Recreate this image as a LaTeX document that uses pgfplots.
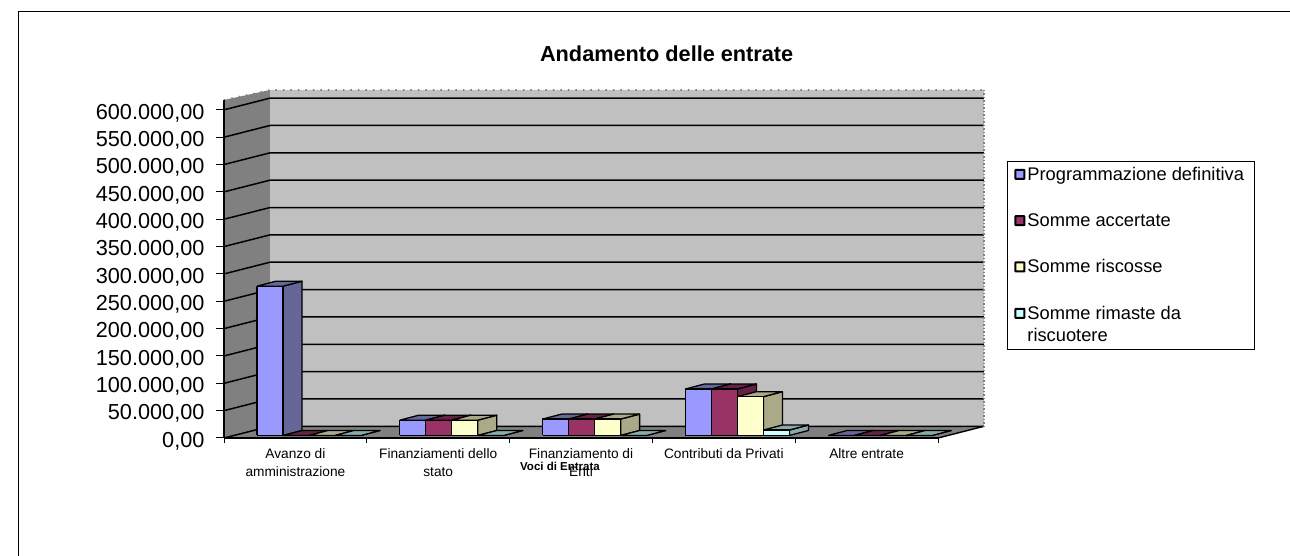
\documentclass[border=0pt]{standalone}
\usepackage{pgfplots}
\usepackage{pgfplotstable}
\usepackage{fontspec}
\setmainfont{Liberation Sans}
\pgfplotsset{compat=1.18}
\definecolor{cA}{HTML}{9999FF}\definecolor{cAd}{HTML}{666699}
\definecolor{cB}{HTML}{993366}\definecolor{cBd}{HTML}{662244}
\definecolor{cC}{HTML}{FFFFCC}\definecolor{cCd}{HTML}{AAAA88}
\definecolor{cD}{HTML}{CCFFFF}\definecolor{cDd}{HTML}{88AAAA}
\definecolor{wall}{HTML}{C0C0C0}\definecolor{dark}{HTML}{808080}
\pgfplotstableread[row sep=\\]{a b c\\1 0 0\\1 1 0\\1 1 1\\1 0 1\\1 0 0\\}\sideT
\pgfplotstableread[row sep=\\]{a b c\\0 0 1\\1 0 1\\1 1 1\\0 1 1\\0 0 1\\}\topT
\pgfplotstableread[row sep=\\]{a b c\\0 0 0\\1 0 0\\1 0 1\\0 0 1\\0 0 0\\}\frontT
\newcommand\Face[5]{\addplot[forget plot,fill=#5,draw=black,line width=1.3pt,line join=round]
  table[x expr={#1+(33+26*#2+26*\thisrow{a}+19*\thisrow{b})/142.8},
        y expr={4570+#3*\thisrow{c}+9150*\thisrow{b}}] {#4};}
% category, series index, value, colour, dark colour
\newcommand\Bar[5]{\Face{#1}{#2}{#3}{\sideT}{#5}\Face{#1}{#2}{#3}{\topT}{#5}\Face{#1}{#2}{#3}{\frontT}{#4}}
\newcommand\Grid[1]{\addplot[forget plot,black,line width=1.5pt]
  table[x=a,y expr={#1+\thisrow{b}},row sep=\\]{a b\\0 0\\0.322 21400\\5.322 21400\\};}
\begin{document}
\begin{tikzpicture}[x=1pt,y=1pt]
\useasboundingbox (0,0) rectangle (1290,556);
\draw[black,line width=1pt] (18.5,0) -- (18.5,544) -- (1290,544);
\begin{axis}[
  at={(224pt,118pt)},anchor=south west,scale only axis,width=714pt,height=338pt,
  xmin=0,xmax=5,ymin=0,ymax=618000,clip=false,
  axis x line=bottom,axis y line=left,axis line style={-,black,line width=1.2pt},
  axis on top,tick align=outside,
  xtick={0.5,1.5,2.5,3.5,4.5},
  minor xtick={0,1,2,3,4,5},
  xticklabels={{Avanzo di\\amministrazione},{Finanziamenti dello\\stato},{Finanziamento di\\Enti},{Contributi da Privati},{Altre entrate}},
  x tick label style={align=center,font=\fontsize{13.7}{18}\selectfont,anchor=north,yshift=1pt},
  major x tick style={draw=none},
  minor tick length=5pt,minor tick style={black,line width=1pt},
  ytick={0,50000,...,600000},
  scaled y ticks=false,
  major tick length=8pt,
  y tick style={black,line width=1pt},
  y tick label style={font=\fontsize{21.7}{24}\selectfont,yshift=-3pt,xshift=-8pt},
  /pgf/number format/.cd,fixed,fixed zerofill,precision=2,1000 sep={.},dec sep={,},assume math mode=true,
  /pgfplots/.cd,
  title={Andamento delle entrate},
  title style={at={(axis description cs:0.62,1.118)},anchor=center,yshift=0pt,font=\bfseries\fontsize{21.7}{24}\selectfont},
  xlabel={Voci di Entrata},
  xlabel style={at={(axis description cs:0.4706,-0.083)},anchor=center,font=\bfseries\fontsize{11.5}{12}\selectfont},
  legend cell align=left,
  legend style={at={(783pt,277pt)},anchor=north west,draw=black,line width=0.8pt,fill=white,
    font=\fontsize{18.3}{22}\selectfont,row sep=1.3pt,inner xsep=7pt,inner ysep=2pt,
    nodes={text height=15pt,text depth=26pt}},
]
% walls and floor
\addplot[forget plot,fill=wall,draw=none] coordinates {(0.322,21400)(5.322,21400)(5.322,636300)(0.322,636300)(0.322,21400)};
\addplot[forget plot,fill=dark,draw=none] coordinates {(0,0)(0.322,21400)(0.322,636300)(0,618000)(0,0)};
\addplot[forget plot,fill=dark,draw=none] coordinates {(0,0)(5,0)(5.322,21400)(0.322,21400)(0,0)};
\Grid{0}\Grid{50000}\Grid{100000}\Grid{150000}\Grid{200000}\Grid{250000}\Grid{300000}
\Grid{350000}\Grid{400000}\Grid{450000}\Grid{500000}\Grid{550000}\Grid{600000}
% edges
\addplot[forget plot,black,line width=1.4pt] coordinates {(5,0)(5.322,21400)};
\addplot[forget plot,dark,line width=1.6pt,dash pattern=on 1.5pt off 6pt] coordinates {(0,618000)(0.322,636300)(5.322,636300)};
\addplot[forget plot,dark,line width=1.6pt,dash pattern=on 1.5pt off 2pt] coordinates {(5.322,636300)(5.322,21400)};
% bars
\Bar{0}{0}{273000}{cA}{cAd}\Bar{0}{1}{0}{cB}{cBd}\Bar{0}{2}{0}{cC}{cCd}\Bar{0}{3}{0}{cD}{cDd}
\Bar{1}{0}{28000}{cA}{cAd}\Bar{1}{1}{28000}{cB}{cBd}\Bar{1}{2}{28000}{cC}{cCd}\Bar{1}{3}{0}{cD}{cDd}
\Bar{2}{0}{30000}{cA}{cAd}\Bar{2}{1}{30000}{cB}{cBd}\Bar{2}{2}{30000}{cC}{cCd}\Bar{2}{3}{0}{cD}{cDd}
\Bar{3}{0}{85000}{cA}{cAd}\Bar{3}{1}{85000}{cB}{cBd}\Bar{3}{2}{71000}{cC}{cCd}\Bar{3}{3}{10000}{cD}{cDd}
\Bar{4}{0}{0}{cA}{cAd}\Bar{4}{1}{0}{cB}{cBd}\Bar{4}{2}{0}{cC}{cCd}\Bar{4}{3}{0}{cD}{cDd}
% legend
\pgfplotsset{legend image code/.code={\draw[#1,draw=black,line width=2pt,rounded corners=0.5pt] (0pt,7pt) rectangle (9pt,16pt);}}
\addlegendimage{fill=cA}\addlegendentry{\parbox[t]{218pt}{Programmazione definitiva}}
\addlegendimage{fill=cB}\addlegendentry{Somme accertate}
\addlegendimage{fill=cC}\addlegendentry{Somme riscosse}
\addlegendimage{fill=cD}\addlegendentry{\parbox[t]{218pt}{Somme rimaste da\\riscuotere}}
\end{axis}
\end{tikzpicture}
\end{document}
